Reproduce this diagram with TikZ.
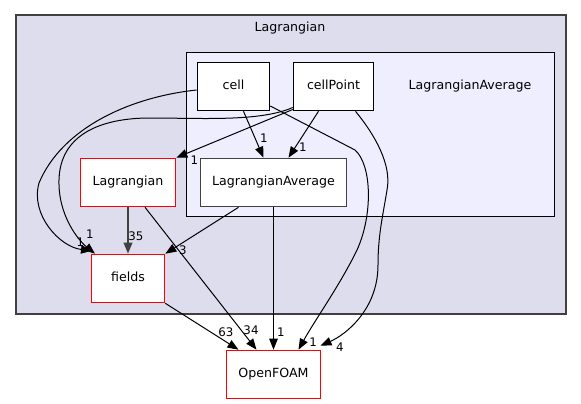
\documentclass[tikz,border=0pt]{standalone}
\usepackage{fontspec}
\setmainfont{DejaVu Sans}
\usetikzlibrary{arrows.meta}
\definecolor{outerfill}{HTML}{DDDDEE}
\definecolor{innerfill}{HTML}{EEEEFF}
\definecolor{dgray}{HTML}{404040}
\tikzset{
  box/.style={draw=black, fill=white, line width=1.6pt, inner sep=0pt,
    font=\fontsize{12.6}{14}\selectfont, text height=0.72em, text depth=0.18em},
  redbox/.style={box, draw=red},
  edge/.style={draw=black, line width=1pt, -{Triangle[length=11pt,width=8.5pt]}},
  elabel/.style={font=\fontsize{11.8}{13}\selectfont, inner sep=0pt},
  clabel/.style={font=\fontsize{12.6}{14}\selectfont, inner sep=0pt, anchor=base},
}
\begin{document}
\begin{tikzpicture}[x=1pt,y=-1pt]
\useasboundingbox (0,0) rectangle (581,404);
% clusters
\draw[fill=outerfill, draw=dgray, line width=2pt] (15.5,15.5) rectangle (565.5,313.5);
\node[clabel] (lagrlabel) at (290,32) {Lagrangian};
\draw[fill=innerfill, draw=black, line width=1.6pt] (186.5,52.5) rectangle (554.5,216.5);
\node[clabel] (lalabel) at (470,89) {LagrangianAverage};
% nodes
\node[box, minimum width=72pt, minimum height=48pt] (cell) at (233.5,86.5) {cell};
\node[box, minimum width=80pt, minimum height=48pt] (cellPoint) at (333.5,86.5) {cellPoint};
\node[box, draw=dgray, minimum width=146pt, minimum height=48pt] (LA) at (273.5,182.5) {LagrangianAverage};
\node[redbox, minimum width=95pt, minimum height=48pt] (Lagr) at (128,182.5) {Lagrangian};
\node[redbox, minimum width=73pt, minimum height=48pt] (fields) at (128,278.5) {fields};
\node[redbox, minimum width=94pt, minimum height=48pt] (OF) at (273.5,374.5) {OpenFOAM};
% edges
\draw[edge] ([yshift=-3.5pt]cell.west) .. controls (130,97) and (62,128) .. (39,183)
  .. controls (30,215) and (60,247) .. ([xshift=-36pt,yshift=3pt]fields.north);
\draw[edge] ([yshift=-21pt]cellPoint.west) .. controls (260,122) and (200,118) .. (150,118)
  .. controls (100,118) and (60,135) .. (59,180)
  .. controls (58,215) and (78,240) .. ([xshift=-33pt]fields.north);
\draw[edge] ([yshift=-23pt]cellPoint.west) -- (Lagr.north east);
\draw[edge] ([xshift=10pt]cell.south) -- ([xshift=-10pt]LA.north);
\draw[edge] ([xshift=-15pt]cellPoint.south) -- ([xshift=15pt]LA.north);
\draw[edge] ([yshift=-19.5pt]cell.east) -- (355,150) .. controls (372,165) and (373,215) .. (357,250)
  .. controls (340,285) and (315,320) .. ([xshift=25pt]OF.north);
\draw[edge] ([xshift=22pt]cellPoint.south) .. controls (375,135) and (392,165) .. (387,190)
  .. controls (383,215) and (378,235) .. (378,265)
  .. controls (378,310) and (345,335) .. ([xshift=47pt,yshift=4pt]OF.north);
\draw[edge] ([xshift=-35pt]LA.south) -- (fields.north east);
\draw[edge] (LA.south) -- (OF.north);
\draw[edge, draw=dgray, line width=1.9pt] (Lagr.south) -- (fields.north);
\draw[edge] ([xshift=17pt]Lagr.south) -- ([xshift=-17pt]OF.north);
\draw[edge] (fields.south east) -- ([xshift=-35pt]OF.north);
% edge labels
\node[elabel] (l1) at (80.5,242) {1};
\node[elabel] (l2) at (90,234.5) {1};
\node[elabel] (l3) at (194.5,160) {1};
\node[elabel] (l4) at (264,138) {1};
\node[elabel] (l5) at (303,147) {1};
\node[elabel] (l6) at (313,342) {1};
\node[elabel] (l7) at (340,347) {4};
\node[elabel] (l8) at (183,250) {3};
\node[elabel] (l9) at (281,332) {1};
\node[elabel] (l10) at (136,236) {35};
\node[elabel] (l11) at (251,330) {34};
\node[elabel] (l12) at (226,332) {63};
\end{tikzpicture}
\end{document}
